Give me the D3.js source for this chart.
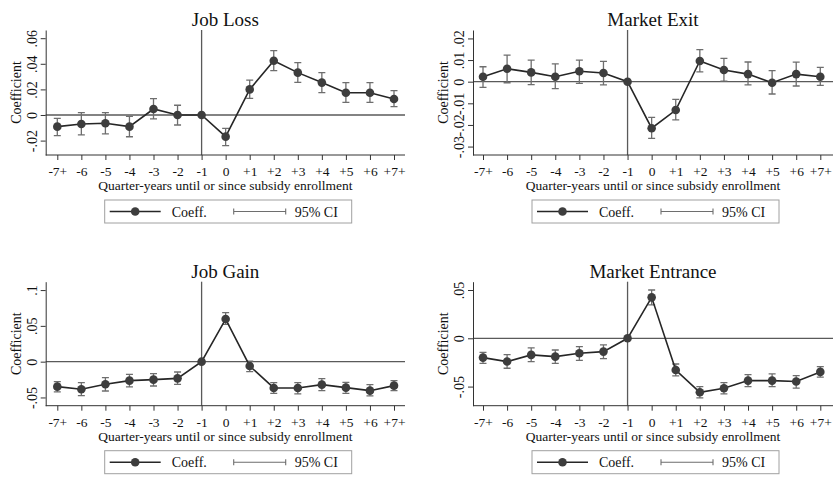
<!DOCTYPE html>
<html>
<head>
<meta charset="utf-8">
<script src="https://cdn.jsdelivr.net/npm/d3@7"></script>
<style>
  html, body { margin: 0; padding: 0; background: #fff; }
  svg { display: block; font-family: "Liberation Serif", "Times New Roman", serif; }
</style>
</head>
<body>
<svg id="chart" width="833" height="477"></svg>
<script>
// Event-time categories (quarters relative to subsidy enrollment)
const categories = ["-7+", "-6", "-5", "-4", "-3", "-2", "-1", "0", "+1", "+2", "+3", "+4", "+5", "+6", "+7+"];

// Job Loss
const jobLossCoef = [-0.0091, -0.0070, -0.0065, -0.0091, 0.0047, 0.0000, 0, -0.0169, 0.0200, 0.0424, 0.0331, 0.0253, 0.0174, 0.0174, 0.0125];
const jobLossLo   = [-0.0161, -0.0156, -0.0148, -0.0170, -0.0031, -0.0078, null, -0.0240, 0.0130, 0.0346, 0.0255, 0.0174, 0.0099, 0.0099, 0.0065];
const jobLossHi   = [-0.0026, 0.0018, 0.0018, -0.0010, 0.0128, 0.0076, null, -0.0104, 0.0273, 0.0503, 0.0409, 0.0331, 0.0253, 0.0253, 0.0190];
const jobLossTicks = [-0.02, 0, 0.02, 0.04, 0.06];
const jobLossTickLabels = ["-.02", "0", ".02", ".04", ".06"];

// Market Exit
const marketExitCoef = [0.0023, 0.0060, 0.0043, 0.0023, 0.0048, 0.0040, 0, -0.0215, -0.0131, 0.0096, 0.0054, 0.0035, -0.0005, 0.0035, 0.0023];
const marketExitLo   = [-0.0026, -0.0005, -0.0014, -0.0032, -0.0008, -0.0015, null, -0.0262, -0.0177, 0.0045, 0.0003, -0.0015, -0.0057, -0.0020, -0.0017];
const marketExitHi   = [0.0069, 0.0123, 0.0100, 0.0082, 0.0100, 0.0094, null, -0.0165, -0.0082, 0.0148, 0.0108, 0.0091, 0.0051, 0.0090, 0.0066];
const marketExitTicks = [-0.03, -0.02, -0.01, 0, 0.01, 0.02];
const marketExitTickLabels = ["-.03", "-.02", "-.01", "0", ".01", ".02"];

// Job Gain
const jobGainCoef = [-0.0349, -0.0386, -0.0316, -0.0265, -0.0251, -0.0233, 0, 0.0595, -0.0060, -0.0367, -0.0367, -0.0321, -0.0363, -0.0405, -0.0335];
const jobGainLo   = [-0.0423, -0.0474, -0.0410, -0.0353, -0.0340, -0.0316, null, 0.0521, -0.0140, -0.0442, -0.0451, -0.0405, -0.0442, -0.0479, -0.0405];
const jobGainHi   = [-0.0279, -0.0293, -0.0223, -0.0177, -0.0167, -0.0144, null, 0.0684, 0.0009, -0.0293, -0.0293, -0.0237, -0.0288, -0.0321, -0.0265];
const jobGainTicks = [-0.05, 0, 0.05, 0.1];
const jobGainTickLabels = ["-.05", "0", ".05", ".1"];

// Market Entrance
const marketEntranceCoef = [-0.0200, -0.0241, -0.0172, -0.0190, -0.0155, -0.0138, 0, 0.0424, -0.0328, -0.0559, -0.0517, -0.0438, -0.0438, -0.0448, -0.0348];
const marketEntranceLo   = [-0.0259, -0.0310, -0.0241, -0.0259, -0.0228, -0.0210, null, 0.0345, -0.0390, -0.0617, -0.0576, -0.0500, -0.0500, -0.0517, -0.0403];
const marketEntranceHi   = [-0.0145, -0.0169, -0.0100, -0.0121, -0.0086, -0.0069, null, 0.0500, -0.0266, -0.0500, -0.0459, -0.0376, -0.0369, -0.0386, -0.0293];
const marketEntranceTicks = [-0.05, 0, 0.05];
const marketEntranceTickLabels = ["-.05", "0", ".05"];

const xTitle = "Quarter-years until or since subsidy enrollment";
const yTitle = "Coefficient";
const legendLabels = ["Coeff.", "95% CI"];

// Panel layout: plot region box, y-axis extent and data
const panels = [
  { title: "Job Loss", coef: jobLossCoef, lo: jobLossLo, hi: jobLossHi,
    ticks: jobLossTicks, labels: jobLossTickLabels, yDomain: [-0.03125, 0.0664],
    left: 45.7, right: 405, top: 30, bottom: 155, x0: 57.3, x1: 394 },
  { title: "Market Exit", coef: marketExitCoef, lo: marketExitLo, hi: marketExitHi,
    ticks: marketExitTicks, labels: marketExitTickLabels, yDomain: [-0.0339, 0.0239],
    left: 473, right: 833, top: 30, bottom: 155, x0: 483, x1: 820.3 },
  { title: "Job Gain", coef: jobGainCoef, lo: jobGainLo, hi: jobGainHi,
    ticks: jobGainTicks, labels: jobGainTickLabels, yDomain: [-0.0615, 0.1117],
    left: 45.7, right: 405, top: 281.7, bottom: 405.7, x0: 57.3, x1: 394 },
  { title: "Market Entrance", coef: marketEntranceCoef, lo: marketEntranceLo, hi: marketEntranceHi,
    ticks: marketEntranceTicks, labels: marketEntranceTickLabels, yDomain: [-0.0698, 0.0586],
    left: 473, right: 833, top: 281.7, bottom: 405.7, x0: 483, x1: 820.3 }
];

const COL_LINE = "#262626";
const COL_MARK = "#3d3d3d";
const COL_CI = "#6e6e6e";
const COL_REF = "#5a5a5a";
const COL_AXIS = "#333";
const FONT = "Liberation Serif, Times New Roman, serif";

const svg = d3.select("#chart");

panels.forEach(p => {
  const g = svg.append("g");
  const x = d3.scalePoint().domain(categories).range([p.x0, p.x1]);
  const y = d3.scaleLinear().domain(p.yDomain).range([p.bottom, p.top]);
  const midX = (p.left + p.right) / 2;

  // Title
  g.append("text")
    .attr("x", midX).attr("y", p.top - 4)
    .attr("text-anchor", "middle")
    .attr("font-size", 19).attr("fill", "#111")
    .text(p.title);

  // Reference lines: zero and enrollment quarter (-1)
  g.append("line")
    .attr("x1", p.left).attr("x2", p.right)
    .attr("y1", y(0)).attr("y2", y(0))
    .attr("stroke", COL_REF).attr("stroke-width", 1.3);
  g.append("line")
    .attr("x1", x("-1")).attr("x2", x("-1"))
    .attr("y1", p.top).attr("y2", p.bottom)
    .attr("stroke", COL_REF).attr("stroke-width", 1.3);

  // Y axis with vertical tick labels
  const yAxis = d3.axisLeft(y)
    .tickValues(p.ticks)
    .tickFormat((d, i) => p.labels[i])
    .tickSize(5).tickSizeOuter(0);
  const ya = g.append("g").attr("transform", `translate(${p.left},0)`).call(yAxis);
  ya.attr("font-family", FONT);
  ya.select(".domain").attr("stroke", COL_AXIS);
  ya.selectAll(".tick line").attr("stroke", COL_AXIS);
  ya.selectAll(".tick text")
    .attr("transform", "rotate(-90)")
    .attr("x", 0).attr("y", -9).attr("dy", null)
    .attr("text-anchor", "middle")
    .attr("font-size", 14).attr("fill", "#111");

  g.append("text")
    .attr("transform", `translate(${p.left - 25},${(p.top + p.bottom) / 2}) rotate(-90)`)
    .attr("text-anchor", "middle")
    .attr("font-size", 14).attr("fill", "#111")
    .text(yTitle);

  // X axis
  const xAxis = d3.axisBottom(x).tickSize(5).tickSizeOuter(0);
  const xa = g.append("g").attr("transform", `translate(0,${p.bottom})`).call(xAxis);
  xa.attr("font-family", FONT);
  xa.select(".domain").remove();
  xa.selectAll(".tick line").attr("stroke", COL_AXIS);
  xa.selectAll(".tick text")
    .attr("y", 0).attr("dy", null)
    .attr("transform", "translate(0,21)")
    .attr("font-size", 13.5).attr("fill", "#111");
  g.append("line")
    .attr("x1", p.left).attr("x2", p.right)
    .attr("y1", p.bottom).attr("y2", p.bottom)
    .attr("stroke", COL_AXIS);

  g.append("text")
    .attr("x", midX).attr("y", p.bottom + 35)
    .attr("text-anchor", "middle")
    .attr("font-size", 13.5).attr("fill", "#111")
    .text(xTitle);

  // Confidence intervals
  const ci = categories.map((c, i) => ({ c, lo: p.lo[i], hi: p.hi[i] })).filter(d => d.lo !== null);
  const cap = 3.5;
  const cig = g.append("g").attr("stroke", COL_CI).attr("stroke-width", 1.3).attr("fill", "none");
  cig.selectAll("path").data(ci).join("path")
    .attr("d", d => {
      const cx = x(d.c), yl = y(d.lo), yh = y(d.hi);
      return `M${cx},${yl}V${yh}M${cx - cap},${yh}H${cx + cap}M${cx - cap},${yl}H${cx + cap}`;
    });

  // Coefficient line and markers
  const pts = categories.map((c, i) => ({ c, v: p.coef[i] }));
  g.append("path")
    .datum(pts)
    .attr("fill", "none").attr("stroke", COL_LINE).attr("stroke-width", 1.6)
    .attr("d", d3.line().x(d => x(d.c)).y(d => y(d.v)));
  g.selectAll("circle.pt").data(pts).join("circle")
    .attr("class", "pt")
    .attr("cx", d => x(d.c)).attr("cy", d => y(d.v)).attr("r", 4.3)
    .attr("fill", COL_MARK);

  // Legend
  const lx = p.left + 59, ly = p.bottom + 45, lw = 247, lh = 23;
  const lg = g.append("g").attr("transform", `translate(${lx},${ly})`);
  lg.append("rect").attr("width", lw).attr("height", lh)
    .attr("fill", "#fff").attr("stroke", "#a0a0a0").attr("stroke-width", 1);
  lg.append("line").attr("x1", 5).attr("x2", 56).attr("y1", lh / 2).attr("y2", lh / 2)
    .attr("stroke", COL_LINE).attr("stroke-width", 1.6);
  lg.append("circle").attr("cx", 30.5).attr("cy", lh / 2).attr("r", 4.3).attr("fill", COL_MARK);
  lg.append("text").attr("x", 67).attr("y", lh / 2 + 5)
    .attr("font-size", 14).attr("fill", "#111").text(legendLabels[0]);
  lg.append("path")
    .attr("d", `M129,${lh / 2}H181M129,${lh / 2 - 3}V${lh / 2 + 3}M181,${lh / 2 - 3}V${lh / 2 + 3}`)
    .attr("stroke", COL_CI).attr("stroke-width", 1.1).attr("fill", "none");
  lg.append("text").attr("x", 190).attr("y", lh / 2 + 5)
    .attr("font-size", 14).attr("fill", "#111").text(legendLabels[1]);
});
</script>
</body>
</html>
